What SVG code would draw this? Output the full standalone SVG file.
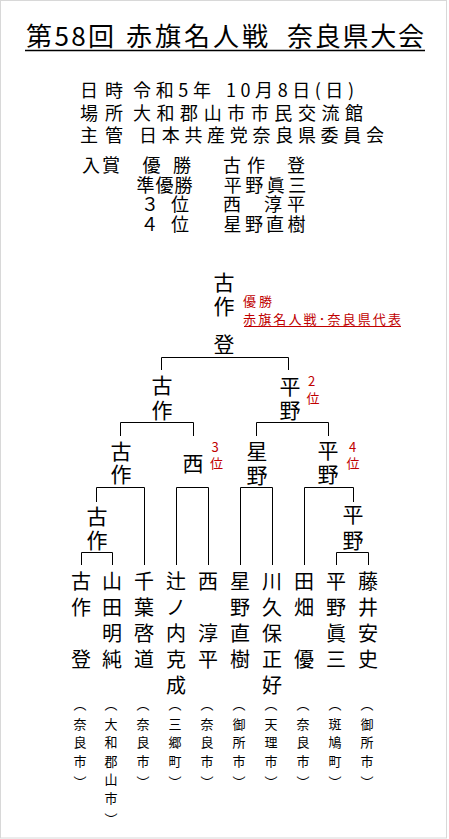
<svg xmlns="http://www.w3.org/2000/svg" width="449" height="839" viewBox="0 0 449 839">
<style>
text{font-family:'Noto Sans CJK JP','Noto Sans CJK SC',sans-serif;fill:#000}
.t{font-size:26px}
.i{font-size:18px}
.b{font-size:21px;text-anchor:middle}
.n{font-size:20px;text-anchor:middle}
.p{font-size:13px;text-anchor:middle}
.r{font-size:13px;fill:#c00000}
.rm{font-size:13px;fill:#c00000;text-anchor:middle}
.ln{stroke:#000;stroke-width:1;fill:none}
</style>
<rect x="0.5" y="0.5" width="446" height="837.5" fill="#fff" stroke="#d8d8d8"/>
<g id="title">
<text class="t" x="26" y="46" textLength="88" lengthAdjust="spacing">第58回</text>
<text class="t" x="126" y="46" textLength="142" lengthAdjust="spacing">赤旗名人戦</text>
<text class="t" x="287" y="46" textLength="137" lengthAdjust="spacing">奈良県大会</text>
<line x1="25" y1="50.5" x2="425" y2="50.5" stroke="#000" stroke-width="1.5"/>
</g>
<g id="info">
<text class="i" x="80" y="96.5" textLength="43" lengthAdjust="spacing">日時</text>
<text class="i" x="133" y="96.5" textLength="78" lengthAdjust="spacing">令和5年</text>
<text class="i" x="226" y="96.5" textLength="128" lengthAdjust="spacing">10月8日(日)</text>
<text class="i" x="80" y="119.5" textLength="43" lengthAdjust="spacing">場所</text>
<text class="i" x="133" y="119.5" textLength="230" lengthAdjust="spacing">大和郡山市市民交流館</text>
<text class="i" x="80" y="142" textLength="43" lengthAdjust="spacing">主管</text>
<text class="i" x="139" y="142" textLength="245" lengthAdjust="spacing">日本共産党奈良県委員会</text>
</g>
<g id="prizes">
<text class="i" style="text-anchor:middle" x="91 111 151.5 182 232 256 296" y="171.5">入賞優勝古作登</text>
<text class="i" style="text-anchor:middle" x="145.5 164.5 183.5 232.7 254.2 275.7 297.2" y="191.5">準優勝平野眞三</text>
<text class="i" style="text-anchor:middle" x="150 180 232 273 296" y="211">３位西淳平</text>
<text class="i" style="text-anchor:middle" x="149.5 180 232.6 253.9 275.1 296.4" y="230.5">４位星野直樹</text>
</g>
<g id="connectors">
<path class="ln" d="M161.5 370V357.5H288.5V370"/>
<path class="ln" d="M120.5 436V422.5H193.5V436"/>
<path class="ln" d="M256.5 436V422.5H328.5V436"/>
<path class="ln" d="M96.5 502V487.5H144.5V565"/>
<path class="ln" d="M176.5 565V487.5H208.5V565"/>
<path class="ln" d="M240.5 565V487.5H272.5V565"/>
<path class="ln" d="M304.5 565V487.5H353.5V502"/>
<path class="ln" d="M81.5 565V552.5H112.5V565"/>
<path class="ln" d="M336.5 565V552.5H368.5V565"/>
</g>
<g id="champion">
<text class="b" x="224 224 224" y="290 314 351.5">古作登</text>
<text class="r" x="243" y="306" textLength="29" lengthAdjust="spacing">優勝</text>
<text class="r" x="243" y="324" textLength="158" lengthAdjust="spacing">赤旗名人戦･奈良県代表</text>
<line x1="244" y1="326.5" x2="401" y2="326.5" stroke="#c00000" stroke-width="1"/>
</g>
<g id="r1-left"><text class="b" x="162 162" y="393 418">古作</text></g>
<g id="r1-right"><text class="b" x="290 290" y="394 418">平野</text><text class="rm" x="311.5 313" y="386 402.5">2位</text></g>
<g id="r2-a"><text class="b" x="121 121" y="458.5 482">古作</text></g>
<g id="r2-b"><text class="b" x="193" y="470.5">西</text><text class="rm" x="215 216.5" y="452 468">3位</text></g>
<g id="r2-c"><text class="b" x="257 257" y="459 483">星野</text></g>
<g id="r2-d"><text class="b" x="328 328" y="458 482">平野</text><text class="rm" x="352.5 353" y="452 468">4位</text></g>
<g id="r3-a"><text class="b" x="97 97" y="523.5 548">古作</text></g>
<g id="r3-b"><text class="b" x="353 353" y="522 548">平野</text></g>
<g id="players">
<g id="p1"><text class="n" x="81 81 81" y="589 615 667">古作登</text><text class="p" x="80 80 80 80 80" y="709 728.5 747 765.5 787">︵奈良市︶</text></g>
<g id="p2"><text class="n" x="112 112 112 112" y="589 615 641 667">山田明純</text><text class="p" x="111 111 111 111 111 111 111" y="709 728.5 747 765.5 784 802.5 824">︵大和郡山市︶</text></g>
<g id="p3"><text class="n" x="144 144 144 144" y="589 615 641 667">千葉啓道</text><text class="p" x="143 143 143 143 143" y="709 728.5 747 765.5 787">︵奈良市︶</text></g>
<g id="p4"><text class="n" x="176 176 176 176 176" y="589 615 641 667 693">辻ノ内克成</text><text class="p" x="175 175 175 175 175" y="709 728.5 747 765.5 787">︵三郷町︶</text></g>
<g id="p5"><text class="n" x="208 208 208" y="589 641 667">西淳平</text><text class="p" x="207 207 207 207 207" y="709 728.5 747 765.5 787">︵奈良市︶</text></g>
<g id="p6"><text class="n" x="240 240 240 240" y="589 615 641 667">星野直樹</text><text class="p" x="239 239 239 239 239" y="709 728.5 747 765.5 787">︵御所市︶</text></g>
<g id="p7"><text class="n" x="272 272 272 272 272" y="589 615 641 667 693">川久保正好</text><text class="p" x="271 271 271 271 271" y="709 728.5 747 765.5 787">︵天理市︶</text></g>
<g id="p8"><text class="n" x="304 304 304" y="589 615 667">田畑優</text><text class="p" x="303 303 303 303 303" y="709 728.5 747 765.5 787">︵奈良市︶</text></g>
<g id="p9"><text class="n" x="336 336 336 336" y="589 615 641 667">平野眞三</text><text class="p" x="335 335 335 335 335" y="709 728.5 747 765.5 787">︵斑鳩町︶</text></g>
<g id="p10"><text class="n" x="368 368 368 368" y="589 615 641 667">藤井安史</text><text class="p" x="367 367 367 367 367" y="709 728.5 747 765.5 787">︵御所市︶</text></g>
</g>
</svg>
